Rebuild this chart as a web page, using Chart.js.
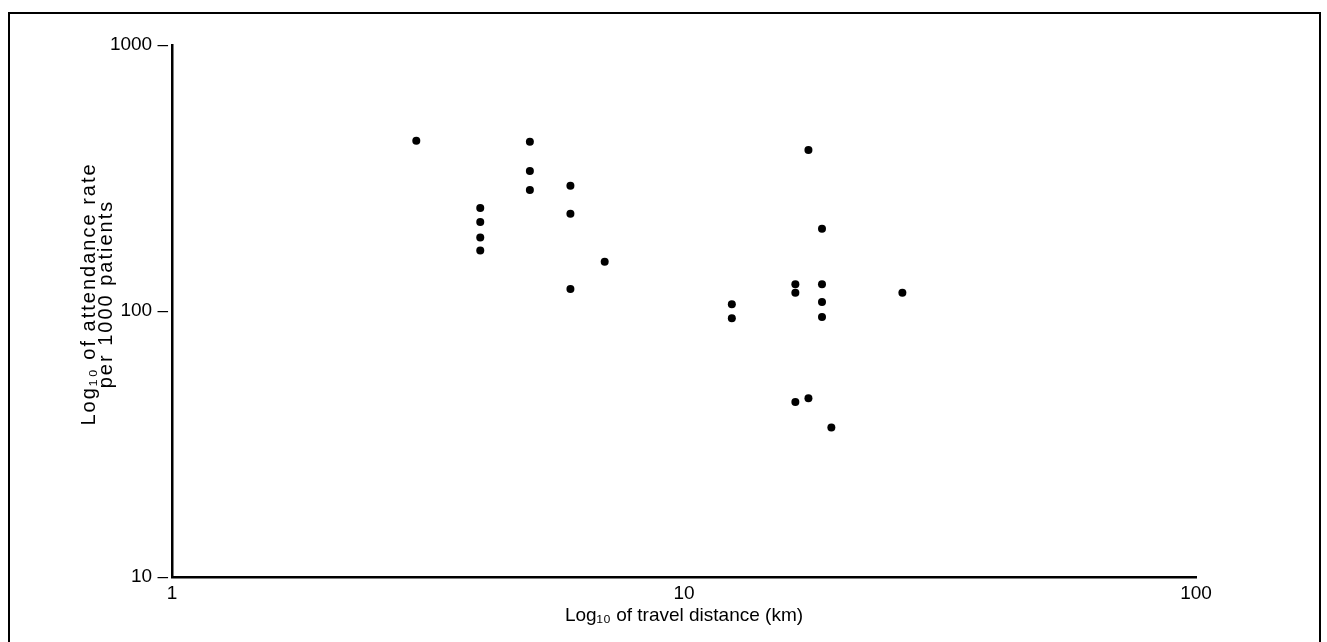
<!DOCTYPE html>
<html>
<head>
<meta charset="utf-8">
<script src="https://cdn.jsdelivr.net/npm/chart.js@4"></script>
<style>
  html, body { margin: 0; padding: 0; background: #fff; overflow: hidden; }
  #wrap { position: relative; width: 1327px; height: 642px; }
  #frame { position: absolute; left: 8px; top: 12px; width: 1309px; height: 700px; border: 2px solid #000; }
  canvas { position: absolute; left: 0; top: 0; }
</style>
</head>
<body>
<div id="wrap">
  <div id="frame"></div>
  <canvas id="scatterChart" width="1327" height="642"></canvas>
</div>
<script>
// travel distance (km) and attendance rate per 1000 patients
const distanceKm = [3, 5, 5, 5, 6, 6, 4, 4, 4, 4, 7, 6,
  17.5, 18.6, 16.5, 16.5, 18.6, 18.6, 18.6, 26.7, 12.4, 12.4, 16.5, 17.5, 19.4];
const attendanceRate = [437, 433, 336, 285, 296, 232, 244, 216, 189, 169, 153, 121,
  403, 204, 126, 117, 126, 108, 95, 117, 106, 94, 45.5, 47, 36.5];
const xTicks = [1, 10, 100];
const yTicks = [10, 100, 1000];
const xTitle = "Log\u2081\u2080 of travel distance (km)";
const yTitleLines = ["Log\u2081\u2080 of attendance rate", "per 1000 patients"];

const points = distanceKm.map((d, i) => ({ x: d, y: attendanceRate[i] }));

const font = "'Liberation Sans', Arial, Helvetica, sans-serif";

// the y title in the original is wide and tightly leaded, so it is drawn here
const yTitlePlugin = {
  id: "yTitle",
  afterDraw(chart) {
    const { ctx } = chart;
    const y = chart.scales.y;
    const cy = (y.top + y.bottom) / 2 - 17;
    ctx.save();
    ctx.font = "20px " + font;
    ctx.letterSpacing = "2px";
    ctx.fillStyle = "#000";
    ctx.textAlign = "center";
    ctx.textBaseline = "middle";
    yTitleLines.forEach((line, i) => {
      ctx.save();
      ctx.translate(89 + i * 17, cy);
      ctx.rotate(-Math.PI / 2);
      ctx.fillText(line, 0, 0);
      ctx.restore();
    });
    ctx.restore();
  },
};

const ctx = document.getElementById("scatterChart");
const scatterChart = new Chart(ctx, {
  type: "scatter",
  data: {
    datasets: [
      {
        label: "attendance",
        data: points,
        pointRadius: 4,
        pointHoverRadius: 4,
        pointBorderWidth: 0,
        backgroundColor: "#000",
        borderColor: "#000",
      },
    ],
  },
  options: {
    responsive: false,
    animation: false,
    layout: {
      padding: { left: 0, top: 45, right: 131, bottom: 0 },
    },
    plugins: {
      legend: { display: false },
      tooltip: { enabled: false },
    },
    scales: {
      x: {
        type: "logarithmic",
        min: 1,
        max: 100,
        afterBuildTicks: (scale) => {
          scale.ticks = xTicks.map((v) => ({ value: v }));
        },
        afterFit: (scale) => {
          scale.height = 65;
        },
        grid: { display: false, drawTicks: false },
        border: { display: true, color: "#000", width: 2.5 },
        ticks: {
          color: "#000",
          padding: 5,
          maxRotation: 0,
          autoSkip: false,
          font: { family: font, size: 19 },
          callback: (v) => String(v),
        },
        title: {
          display: true,
          text: xTitle,
          color: "#000",
          font: { family: font, size: 19 },
          padding: { top: 0, bottom: 15 },
        },
      },
      y: {
        type: "logarithmic",
        min: 10,
        max: 1000,
        afterBuildTicks: (scale) => {
          scale.ticks = yTicks.map((v) => ({ value: v }));
        },
        afterFit: (scale) => {
          scale.width = 172;
        },
        grid: { display: false, drawTicks: false },
        border: { display: true, color: "#000", width: 2.5 },
        ticks: {
          color: "#000",
          padding: 4,
          autoSkip: false,
          font: { family: font, size: 19 },
          callback: (v) => v + " \u2013",
        },
        title: { display: false },
      },
    },
  },
  plugins: [yTitlePlugin],
});
</script>
</body>
</html>
